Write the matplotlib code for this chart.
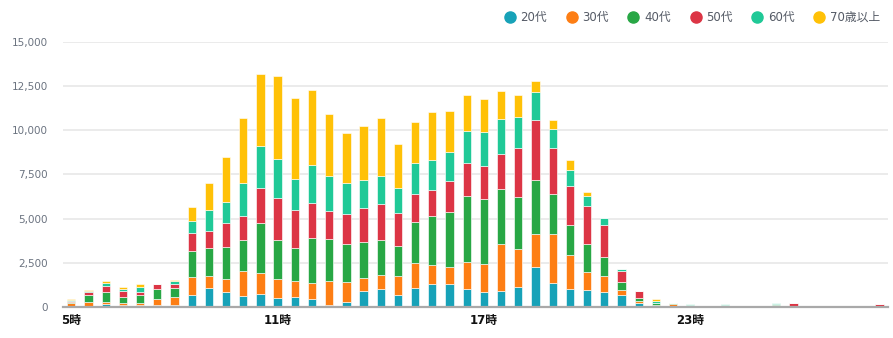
import matplotlib
matplotlib.use("Agg")
import matplotlib.pyplot as plt
from matplotlib.lines import Line2D
import numpy as np

plt.rcParams['font.family'] = ['DejaVu Sans', 'Noto Sans CJK JP']

# 30-minute slots from 5:00 through 4:30 the next morning
slots = [f"{(5 + i // 2) % 24}:{'30' if i % 2 else '00'}" for i in range(48)]
tick_slots = [0, 12, 24, 36]
tick_labels = ["5時", "11時", "17時", "23時"]

series_names = ["20代", "30代", "40代", "50代", "60代", "70歳以上"]
series_colors = ["#17a2b8", "#fd7e14", "#28a745", "#dc3545", "#20c997", "#ffc107"]

age20 = [40, 40, 130, 75, 75, 95, 95, 642, 1057, 812, 585, 736, 491, 529, 434, 113,
         283, 868, 1001, 642, 1057, 1265, 1303, 1001, 812, 906, 1133, 2266, 1322, 1020, 963, 812,
         642, 226, 30, 20, 0, 0, 20, 0, 0, 70, 0, 0, 0, 0, 0, 0]
age30 = [150, 240, 150, 113, 150, 320, 470, 1057, 699, 774, 1435, 1152, 1095, 925, 925, 1341,
         1095, 775, 793, 1095, 1397, 1095, 963, 1529, 1605, 2625, 2114, 1850, 2794, 1925, 1001, 944,
         283, 105, 40, 110, 0, 0, 20, 0, 0, 0, 20, 0, 0, 0, 0, 20]
age40 = [70, 400, 550, 360, 415, 585, 490, 1454, 1548, 1775, 1756, 2832, 2171, 1850, 2511, 2360,
         2153, 2020, 1982, 1718, 2323, 2813, 3115, 3738, 3719, 3171, 2983, 3096, 2265, 1681, 1567, 1038,
         453, 180, 130, 60, 100, 0, 40, 0, 0, 100, 30, 0, 0, 0, 0, 0]
age50 = [80, 150, 320, 340, 190, 265, 210, 1001, 982, 1378, 1397, 2020, 2436, 2190, 2039, 1642,
         1755, 1944, 2077, 1888, 1604, 1473, 1775, 1888, 1869, 1964, 2757, 3399, 2606, 2246, 2190, 1832,
         623, 395, 30, 0, 0, 0, 0, 0, 0, 0, 170, 0, 0, 0, 0, 110]
age60 = [60, 80, 170, 130, 300, 0, 170, 717, 1208, 1227, 1831, 2398, 2171, 1737, 2134, 1964,
         1718, 1567, 1567, 1416, 1775, 1661, 1642, 1832, 1888, 1982, 1775, 1567, 1114, 869, 566, 396,
         151, 0, 100, 0, 30, 0, 80, 0, 0, 20, 0, 0, 0, 0, 0, 0]
age70 = [40, 35, 110, 113, 130, 0, 95, 774, 1510, 2549, 3701, 4078, 4739, 4607, 4267, 3530,
         2870, 3097, 3285, 2492, 2304, 2719, 2322, 2020, 1907, 1567, 1246, 623, 510, 604, 208, 0,
         0, 0, 100, 0, 0, 0, 0, 0, 0, 0, 0, 0, 0, 0, 0, 0]

series = [age20, age30, age40, age50, age60, age70]

fig = plt.figure(figsize=(8.93, 3.38), dpi=100)
ax = fig.add_axes([0.0702, 0.0926, 0.9242, 0.7823])

x = np.arange(len(slots))
bottom = np.zeros(len(slots))
for vals, color in zip(series, series_colors):
    v = np.array(vals, dtype=float)
    ax.bar(x, v, width=0.48, bottom=bottom, color=color,
           edgecolor=(1, 1, 1, 0.7), linewidth=0.6, zorder=3)
    bottom += v

ax.set_xlim(-0.5, len(slots) - 0.5)
ax.set_ylim(0, 15000)
ax.set_yticks(np.arange(0, 15001, 2500))
ax.set_yticklabels([f"{int(t):,}" for t in np.arange(0, 15001, 2500)],
                   fontsize=7.5, color="#6b7380")
ax.set_xticks(tick_slots)
ax.set_xticklabels(tick_labels, fontsize=8.5, fontweight="bold", color="#111111")
ax.tick_params(axis="y", length=0, pad=10.5)
ax.tick_params(axis="x", length=0, pad=5)

ax.grid(axis="y", color="#ebebeb", linewidth=1.4, zorder=0)
ax.set_axisbelow(True)
for side in ("left", "right", "top"):
    ax.spines[side].set_visible(False)
ax.spines["bottom"].set_color("#a9a9a9")
ax.spines["bottom"].set_linewidth(1.6)
ax.spines["bottom"].set_zorder(4)

handles = [Line2D([0], [0], marker="o", linestyle="none", markersize=8,
                  markerfacecolor=c, markeredgecolor=c) for c in series_colors]
fig.legend(handles, series_names, loc="center right", bbox_to_anchor=(0.991, 0.948),
           ncol=6, frameon=False, fontsize=8.5, handlelength=1.0, handletextpad=0.4,
           columnspacing=1.6, labelcolor="#555b66", borderaxespad=0)

fig.savefig("out.png", dpi=100)
